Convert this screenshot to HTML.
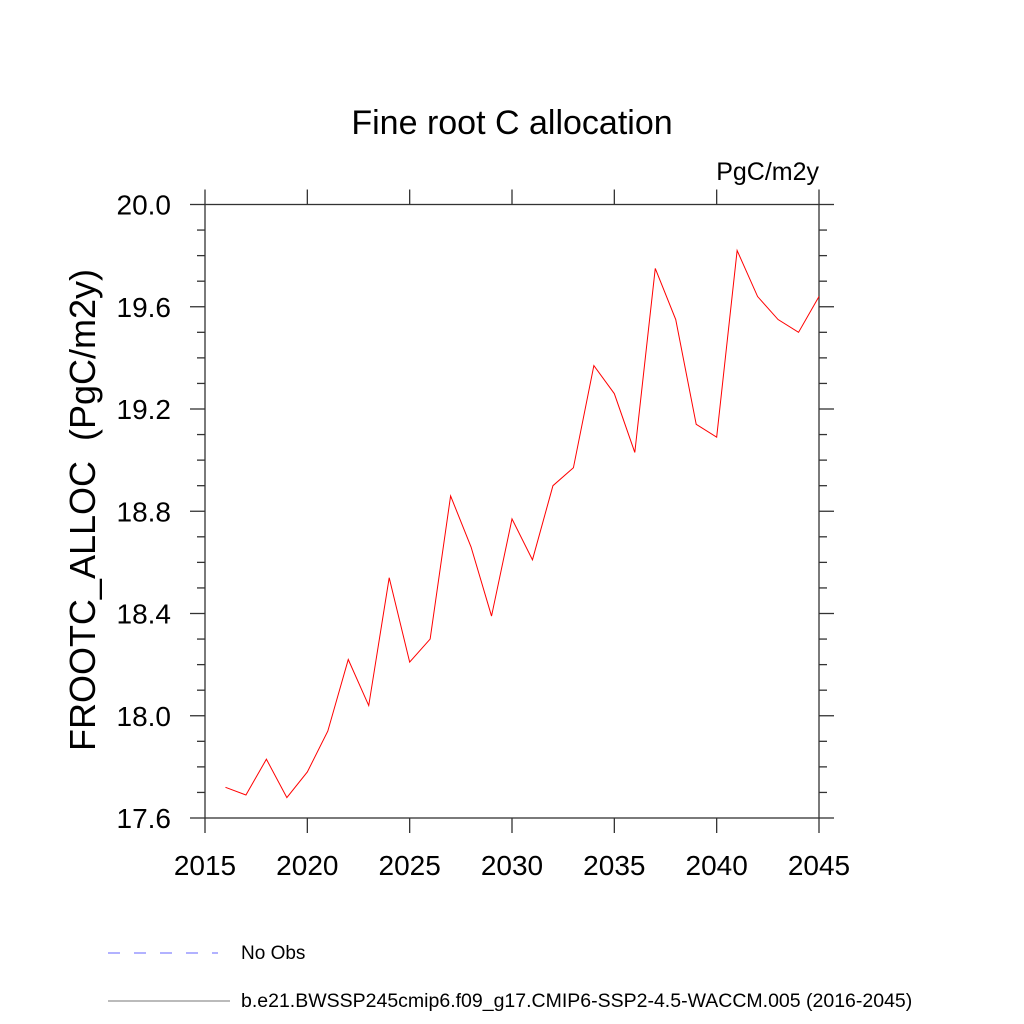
<!DOCTYPE html>
<html><head><meta charset="utf-8"><style>body{margin:0;background:#fff}svg{display:block}text{font-family:"Liberation Sans",sans-serif}</style></head>
<body>
<svg id="c" width="1024" height="1024">
<text x="512" y="134" font-size="34" text-anchor="middle">Fine root C allocation</text>
<text x="819" y="180" font-size="25" text-anchor="end">PgC/m2y</text>
<text transform="translate(95,510) rotate(-90)" font-size="36" text-anchor="middle">FROOTC_ALLOC&#160;&#160;(PgC/m2y)</text>
<g id="axes"></g>
<polyline id="line" fill="none" stroke="#ff0000" stroke-width="1"/>
<g>
<line x1="108" y1="953" x2="218" y2="953" stroke="#6666ff" stroke-dasharray="12,14"/>
<text x="241" y="959" font-size="19">No Obs</text>
<line x1="108" y1="1001" x2="230" y2="1001" stroke="#777"/>
<text x="241" y="1007" font-size="19.5">b.e21.BWSSP245cmip6.f09_g17.CMIP6-SSP2-4.5-WACCM.005 (2016-2045)</text>
</g>
</svg>
<script>
const years=[2016,2017,2018,2019,2020,2021,2022,2023,2024,2025,2026,2027,2028,2029,2030,2031,2032,2033,2034,2035,2036,2037,2038,2039,2040,2041,2042,2043,2044,2045];
const values=[17.72,17.69,17.83,17.68,17.78,17.94,18.22,18.04,18.54,18.21,18.30,18.86,18.66,18.39,18.77,18.61,18.90,18.97,19.37,19.26,19.03,19.75,19.55,19.14,19.09,19.82,19.64,19.55,19.50,19.64];
const xTicks=[2015,2020,2025,2030,2035,2040,2045];
const yTicks=[17.6,18.0,18.4,18.8,19.2,19.6,20.0];
const yTickLabels=["17.6","18.0","18.4","18.8","19.2","19.6","20.0"];
const L=205,R=819,T=204.5,B=818;
const sx=v=>L+(v-2015)/30*(R-L);
const sy=v=>B-(v-17.6)/2.4*(B-T);
const ns="http://www.w3.org/2000/svg",g=document.getElementById('axes');
function ln(x1,y1,x2,y2,name){const e=document.createElementNS(ns,'line');e.setAttribute('x1',x1);e.setAttribute('y1',y1);e.setAttribute('x2',x2);e.setAttribute('y2',y2);e.setAttribute('stroke','#333');e.setAttribute('stroke-width','1.3');


g.appendChild(e);}
function tx(x,y,s,anchor,name){const e=document.createElementNS(ns,'text');e.setAttribute('x',x);e.setAttribute('y',y);e.setAttribute('font-size','28');e.setAttribute('text-anchor',anchor);e.textContent=s;


g.appendChild(e);}
const fr=document.createElementNS(ns,'rect');fr.setAttribute('x',L);fr.setAttribute('y',T);fr.setAttribute('width',R-L);fr.setAttribute('height',B-T);fr.setAttribute('fill','none');fr.setAttribute('stroke','#333');fr.setAttribute('stroke-width','1.3');


g.appendChild(fr);
xTicks.forEach(v=>{const x=sx(v);ln(x,B,x,B+15,'x-tick');ln(x,T,x,T-15,'x-tick-top');tx(x,875,String(v),'middle','x-tick-label');});
for(let v=17.6;v<=20.001;v+=0.1){const y=sy(v);const maj=Math.abs((v-17.6)/0.4-Math.round((v-17.6)/0.4))<0.01;const len=maj?15:8;ln(L-len,y,L,y,'y-tick');ln(R,y,R+len,y,'y-tick-right');}
yTicks.forEach((v,i)=>tx(L-34,sy(v)+10,yTickLabels[i],'end','y-tick-label'));
document.getElementById('line').setAttribute('points',years.map((y,i)=>sx(y)+','+sy(values[i])).join(' '));
</script>
</body></html>
